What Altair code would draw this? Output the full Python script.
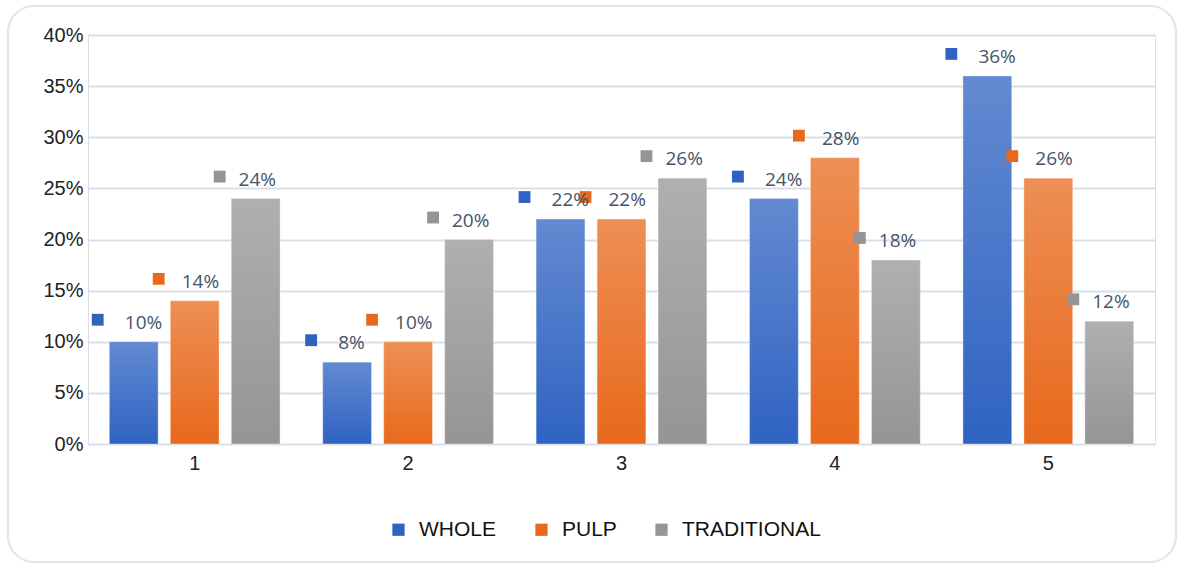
import altair as alt
import pandas as pd

categories = ["1", "2", "3", "4", "5"]
series = ["WHOLE", "PULP", "TRADITIONAL"]
whole = [0.10, 0.08, 0.22, 0.24, 0.36]
pulp = [0.14, 0.10, 0.22, 0.28, 0.26]
traditional = [0.24, 0.20, 0.26, 0.18, 0.12]
y_ticks = [0, 0.05, 0.10, 0.15, 0.20, 0.25, 0.30, 0.35, 0.40]
colors = ["#2F63C2", "#E8691C", "#959595"]

rows = []
for s, vals in zip(series, [whole, pulp, traditional]):
    for c, v in zip(categories, vals):
        rows.append({"cat": c, "series": s, "value": v, "label": f"{round(v*100)}%"})
df = pd.DataFrame(rows)

W, H = 1067, 409
band = W / 5 * 0.8
step = band / 2.8
first_c = step * 0.8 / 2
last_c = first_c + 2 * step
mk_shift = -36

x = alt.X("cat:N", sort=categories, scale=alt.Scale(paddingInner=0.2, paddingOuter=0.1),
          axis=alt.Axis(title=None, labelAngle=0, ticks=False, domain=False, labelFontSize=20,
                        labelFont="Liberation Sans", labelColor="#222222", labelPadding=9))
xo = alt.XOffset("series:N", sort=series, scale=alt.Scale(domain=series, paddingInner=0.2))
xo_mk = alt.XOffset("series:N", sort=series,
                    scale=alt.Scale(type="point", domain=series, padding=0,
                                    range=[first_c + mk_shift, last_c + mk_shift]))
y = alt.Y("value:Q", scale=alt.Scale(domain=[0, 0.4]),
          axis=alt.Axis(title=None, values=y_ticks, format=".0%", ticks=False, domain=False,
                        labelFontSize=20, labelFont="Liberation Sans", labelColor="#222222",
                        labelPadding=5, grid=True, gridColor="#D9DFEA", gridWidth=2))
color = alt.Color("series:N", sort=series, scale=alt.Scale(domain=series, range=colors),
                  legend=alt.Legend(title=None, orient="none", direction="horizontal",
                                    legendX=300, legendY=484, symbolType="square", symbolSize=150,
                                    symbolStrokeWidth=0, labelFontSize=21, labelFont="Liberation Sans",
                                    labelColor="#111111", columnPadding=34, labelOffset=10))

base = alt.Chart(df)

bars = base.mark_bar().encode(x=x, xOffset=xo, y=y, color=color)

overlay = base.mark_bar(
    fill=alt.Gradient(gradient="linear", x1=0, x2=0, y1=0, y2=1,
                      stops=[alt.GradientStop(color="rgba(255,255,255,0.25)", offset=0),
                             alt.GradientStop(color="rgba(255,255,255,0)", offset=1)]),
    stroke="rgba(255,255,255,0.35)", strokeWidth=1
).encode(x=x, xOffset=xo, y=y)

labels = base.mark_text(font="Open Sans", fontSize=19, color="#44546A", align="left",
                        baseline="middle", dx=-13, dy=-19).encode(x=x, xOffset=xo, y=y, text="label:N")

markers = base.mark_square(size=140, opacity=1, yOffset=-22).encode(
    x=x, xOffset=xo_mk, y=y,
    color=alt.Color("series:N", sort=series, scale=alt.Scale(domain=series, range=colors), legend=None))

border = alt.Chart(pd.DataFrame({"a": [0]})).mark_rect(
    fill=None, stroke="#E2E4E8", strokeWidth=2, cornerRadius=26, clip=False
).encode(x=alt.value(-80), x2=alt.value(1088), y=alt.value(-29), y2=alt.value(527))

chart = alt.layer(border, bars, overlay, markers, labels).resolve_scale(
    xOffset="independent"
).properties(
    width=W, height=H,
    autosize=alt.AutoSizeParams(type="none"),
    padding={"left": 88, "top": 35, "right": 24, "bottom": 123},
).configure_view(stroke=None).configure(background="white")

chart.save("out.html", embed_options={"renderer": "svg", "actions": False})
